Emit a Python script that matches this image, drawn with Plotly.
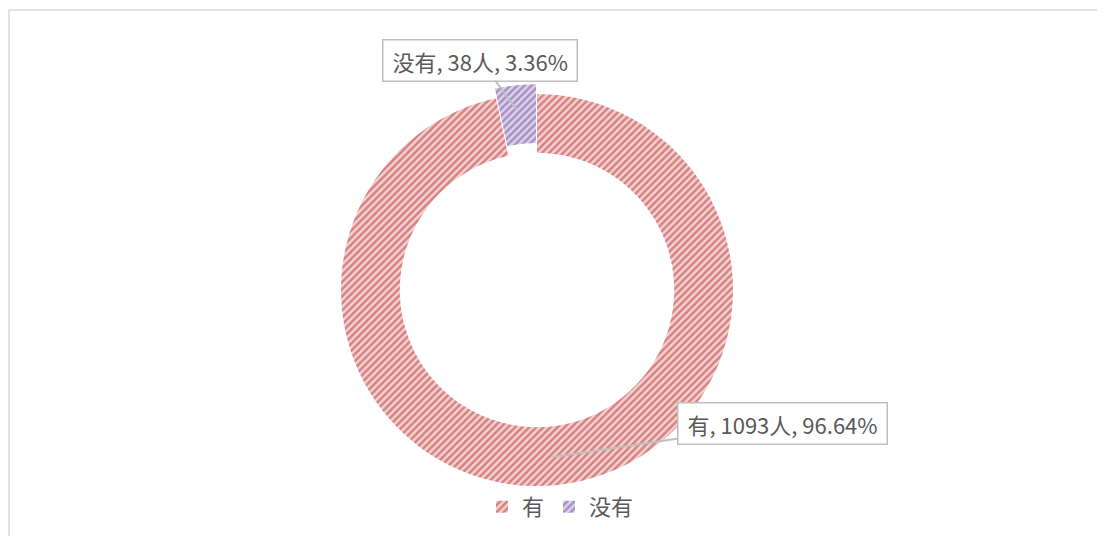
import plotly.graph_objects as go

# ── data ──
labels = ['有', '没有']
counts = [1093, 38]
percents = ['96.64%', '3.36%']

fill_bg = ['#f4d2d1', '#ddd2ea']
fill_fg = ['#b8302d', '#7050a0']

fig = go.Figure(go.Pie(
    labels=labels, values=counts,
    hole=0.70, sort=False, direction='clockwise', rotation=0,
    pull=[0, 0.05],
    textinfo='none', hoverinfo='label+value+percent',
    marker=dict(colors=fill_bg, line=dict(width=0),
                pattern=dict(shape='/', fgcolor=fill_fg, size=5, solidity=0.5,
                             fillmode='overlay')),
    domain=dict(x=[0.2925, 0.6650], y=[0.0899, 0.8578]),
))

font_main = "'Noto Sans CJK SC', sans-serif"
pad = '\u00a0'

# callout labels (arrow points on the slices, offsets to the boxes)
callouts = [
    dict(i=1, x=0.4606, y=0.8097, ax=-37, ay=-50),
    dict(i=0, x=0.4932, y=0.1623, ax=230, ay=-34),
]
for c in callouts:
    i = c['i']
    fig.add_annotation(
        xref='paper', yref='paper', x=c['x'], y=c['y'], ax=c['ax'], ay=c['ay'],
        text=f"{pad}{labels[i]}, {counts[i]}人, {percents[i]}{pad}",
        showarrow=True, arrowhead=0, arrowwidth=2, arrowcolor='#bfbfbf',
        bgcolor='white', bordercolor='#bfbfbf', borderwidth=1.5, borderpad=4,
        font=dict(size=22, color='#595959', family=font_main),
    )

# chart border
fig.add_shape(type='rect', xref='paper', yref='paper',
              x0=1 / 1105, x1=1.02, y0=-0.02, y1=1 - 2 / 536,
              line=dict(color='#d9d9d9', width=1.5), fillcolor='rgba(0,0,0,0)')

fig.update_layout(
    width=1105, height=536,
    margin=dict(l=0, r=0, t=0, b=0),
    paper_bgcolor='white', plot_bgcolor='white',
    font=dict(family=font_main, color='#595959'),
    showlegend=True,
    legend=dict(orientation='h', x=0.50, xanchor='center', y=0.03, yanchor='bottom',
                font=dict(size=22, color='#595959'), itemwidth=30),
)

fig.write_html("out.html")
